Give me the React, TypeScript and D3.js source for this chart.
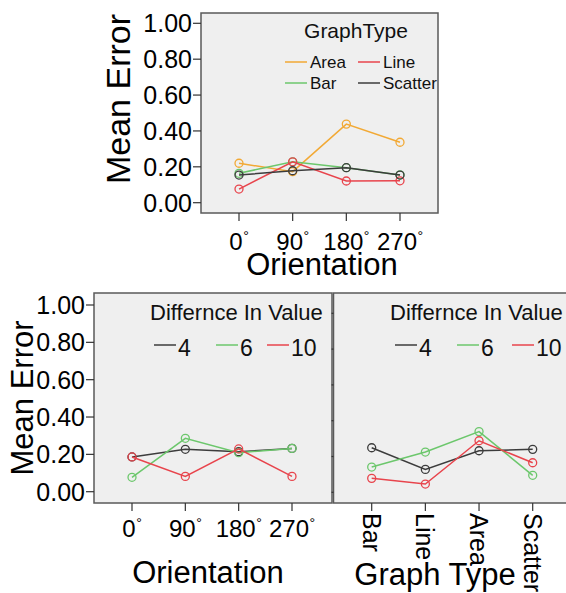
import React from 'react';
import * as d3 from 'd3';

// categories
const orientations = ['0', '90', '180', '270'];
const graphTypes = ['Bar', 'Line', 'Area', 'Scatter'];
const diffLevels = ['4', '6', '10'];
const yTicks = [0, 0.2, 0.4, 0.6, 0.8, 1.0];

// top chart: mean error by orientation, per graph type
const areaByOrient = [0.22, 0.173, 0.438, 0.337];
const barByOrient = [0.164, 0.228, 0.195, 0.155];
const lineByOrient = [0.076, 0.228, 0.121, 0.122];
const scatterByOrient = [0.154, 0.178, 0.195, 0.154];

// bottom left: by orientation, per difference in value
const diff4ByOrient = [0.186, 0.227, 0.214, 0.232];
const diff6ByOrient = [0.077, 0.286, 0.209, 0.232];
const diff10ByOrient = [0.186, 0.082, 0.229, 0.082];

// bottom right: by graph type, per difference in value
const diff4ByType = [0.249, 0.128, 0.232, 0.24];
const diff6ByType = [0.141, 0.225, 0.339, 0.095];
const diff10ByType = [0.078, 0.046, 0.288, 0.165];

const ORANGE = '#f2a935';
const RED = '#e8444c';
const GREEN = '#6cc76c';
const DARK = '#3c3c3c';
const FONT = 'Liberation Sans, Arial, sans-serif';

type Series = { name: string; values: number[]; color: string };

function Marks({ series, x, y, cats }: any) {
  const line = d3
    .line<number>()
    .x((_, i) => x(cats[i]))
    .y((d) => y(d));
  return (
    <g>
      {series.map((s: Series) => (
        <g key={s.name}>
          <path d={line(s.values) || ''} fill="none" stroke={s.color} strokeWidth={1.5} />
          {s.values.map((v, i) => (
            <circle key={i} cx={x(cats[i])} cy={y(v)} r={4} fill="none" stroke={s.color} strokeWidth={1.3} />
          ))}
        </g>
      ))}
    </g>
  );
}

function YAxis({ y, x0 }: any) {
  return (
    <g>
      {yTicks.map((t) => (
        <g key={t}>
          <line x1={x0 - 8} x2={x0} y1={y(t)} y2={y(t)} stroke="#333" strokeWidth={1.2} />
          <text x={x0 - 9} y={y(t)} dy="0.36em" textAnchor="end" fontSize={25}>
            {t.toFixed(2)}
          </text>
        </g>
      ))}
    </g>
  );
}

// degree label: digits, then a small raised ring as its own text
function DegLabel({ x, y, v }: any) {
  const digitW = 0.556 * 24;
  const ringW = 6;
  const start = x - (v.length * digitW + ringW) / 2;
  const split = start + v.length * digitW;
  return (
    <g>
      <text x={split} y={y} textAnchor="end" fontSize={24}>{v}</text>
      <text x={split + 0.5} y={y - 9} fontSize={14}>°</text>
    </g>
  );
}

function App() {
  // top chart
  const topBox = { l: 201, r: 438, t: 13, b: 213 };
  const xTop = d3.scalePoint<string>().domain(orientations).range([239, 400]);
  const yTop = d3.scaleLinear().domain([0, 1]).range([202.7, 23.3]);
  const topSeries: Series[] = [
    { name: 'Area', values: areaByOrient, color: ORANGE },
    { name: 'Bar', values: barByOrient, color: GREEN },
    { name: 'Line', values: lineByOrient, color: RED },
    { name: 'Scatter', values: scatterByOrient, color: DARK },
  ];

  // bottom left
  const blBox = { l: 94, r: 332, t: 293, b: 503 };
  const xBL = d3.scalePoint<string>().domain(orientations).range([132, 292]);
  const yBL = d3.scaleLinear().domain([0, 1]).range([491.7, 305]);
  const blSeries: Series[] = [
    { name: '4', values: diff4ByOrient, color: DARK },
    { name: '6', values: diff6ByOrient, color: GREEN },
    { name: '10', values: diff10ByOrient, color: RED },
  ];

  // bottom right
  const brBox = { l: 333.5, r: 574, t: 293, b: 503 };
  const xBR = d3.scalePoint<string>().domain(graphTypes).range([371.7, 532.7]);
  const yBR = d3.scaleLinear().domain([0, 1]).range([492.3, 313.3]);
  const brSeries: Series[] = [
    { name: '4', values: diff4ByType, color: DARK },
    { name: '6', values: diff6ByType, color: GREEN },
    { name: '10', values: diff10ByType, color: RED },
  ];

  const topLegend = [
    { name: 'Area', color: ORANGE, x: 285, y: 62 },
    { name: 'Line', color: RED, x: 358, y: 62 },
    { name: 'Bar', color: GREEN, x: 285, y: 83 },
    { name: 'Scatter', color: DARK, x: 358, y: 83 },
  ];
  const legendLinesL = [154, 216, 267];
  const legendLinesR = [395, 457, 512];

  const box = (b: any) => (
    <rect x={b.l} y={b.t} width={b.r - b.l} height={b.b - b.t} fill="#efefef" stroke="#5a5a5a" strokeWidth={1.5} />
  );

  return (
    <div style={{ position: 'absolute', left: 0, top: 0 }}>
      <svg width={566} height={593} fontFamily={FONT} style={{ display: 'block', background: '#fff' }}>
        {/* top chart */}
        {box(topBox)}
        <YAxis y={yTop} x0={topBox.l} />
        {orientations.map((c) => (
          <g key={c}>
            <line x1={xTop(c)} x2={xTop(c)} y1={topBox.b} y2={topBox.b + 8} stroke="#333" strokeWidth={1.2} />
            <DegLabel x={xTop(c)} y={250} v={c} />
          </g>
        ))}
        <Marks series={topSeries} x={xTop} y={yTop} cats={orientations} />
        <text x={356} y={38} textAnchor="middle" fontSize={21} fill="#111">GraphType</text>
        {topLegend.map((d) => (
          <g key={d.name}>
            <line x1={d.x} x2={d.x + 22} y1={d.y} y2={d.y} stroke={d.color} strokeWidth={1.5} />
            <text x={d.x + 25} y={d.y} dy="0.36em" fontSize={17} fill="#111">{d.name}</text>
          </g>
        ))}
        <text transform="translate(130,99) rotate(-90)" textAnchor="middle" fontSize={34}>Mean Error</text>
        <text x={322} y={275} textAnchor="middle" fontSize={31}>Orientation</text>

        {/* bottom left */}
        {box(blBox)}
        <YAxis y={yBL} x0={blBox.l} />
        {orientations.map((c) => (
          <g key={c}>
            <line x1={xBL(c)} x2={xBL(c)} y1={blBox.b} y2={blBox.b + 8} stroke="#333" strokeWidth={1.2} />
            <DegLabel x={xBL(c)} y={537} v={c} />
          </g>
        ))}
        <Marks series={blSeries} x={xBL} y={yBL} cats={orientations} />
        <text x={150} y={320} fontSize={22} fill="#111">Differnce In Value</text>
        {diffLevels.map((d, i) => (
          <g key={d}>
            <line x1={legendLinesL[i]} x2={legendLinesL[i] + 22} y1={345} y2={345} stroke={blSeries[i].color} strokeWidth={1.5} />
            <text x={legendLinesL[i] + 24} y={356} fontSize={23} fill="#111">{d}</text>
          </g>
        ))}
        <text transform="translate(33,398) rotate(-90)" textAnchor="middle" fontSize={31}>Mean Error</text>
        <text x={208} y={583} textAnchor="middle" fontSize={31}>Orientation</text>

        {/* bottom right */}
        {box(brBox)}
        {yTicks.map((t) => (
          <line key={t} x1={brBox.l - 2} x2={brBox.l} y1={yBR(t)} y2={yBR(t)} stroke="#333" strokeWidth={1.2} />
        ))}
        {graphTypes.map((c) => (
          <g key={c}>
            <line x1={xBR(c)} x2={xBR(c)} y1={brBox.b} y2={brBox.b + 8} stroke="#333" strokeWidth={1.2} />
            <text transform={`translate(${xBR(c)},${brBox.b + 10}) rotate(90)`} dy="0.36em" fontSize={25}>{c}</text>
          </g>
        ))}
        <Marks series={brSeries} x={xBR} y={yBR} cats={graphTypes} />
        <text x={390} y={320} fontSize={22} fill="#111">Differnce In Value</text>
        {diffLevels.map((d, i) => (
          <g key={d}>
            <line x1={legendLinesR[i]} x2={legendLinesR[i] + 22} y1={345} y2={345} stroke={brSeries[i].color} strokeWidth={1.5} />
            <text x={legendLinesR[i] + 24} y={356} fontSize={23} fill="#111">{d}</text>
          </g>
        ))}
        <text x={435} y={585} textAnchor="middle" fontSize={31}>Graph Type</text>
      </svg>
    </div>
  );
}

export default App;
